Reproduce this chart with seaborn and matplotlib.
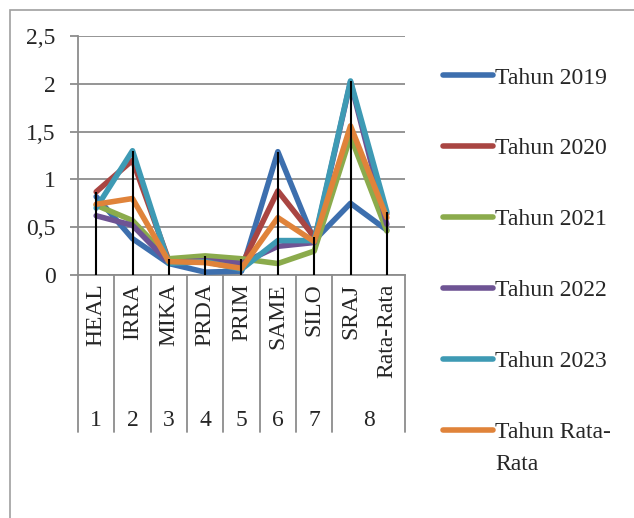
import pandas as pd
import matplotlib
matplotlib.use("Agg")
import matplotlib.pyplot as plt
from matplotlib.patches import Rectangle
import seaborn as sns

# data
categories = ["HEAL", "IRRA", "MIKA", "PRDA", "PRIM", "SAME", "SILO", "SRAJ", "Rata-Rata"]
groups = ["1", "2", "3", "4", "5", "6", "7", "8"]
tahun_2019 = [0.82, 0.38, 0.12, 0.03, 0.04, 1.29, 0.36, 0.75, 0.47]
tahun_2020 = [0.87, 1.20, 0.15, 0.15, 0.10, 0.88, 0.40, 1.50, 0.64]
tahun_2021 = [0.73, 0.57, 0.17, 0.20, 0.17, 0.12, 0.25, 1.45, 0.46]
tahun_2022 = [0.62, 0.52, 0.13, 0.15, 0.12, 0.30, 0.34, 2.02, 0.53]
tahun_2023 = [0.70, 1.30, 0.12, 0.14, 0.06, 0.36, 0.36, 2.03, 0.66]
tahun_rata = [0.74, 0.80, 0.14, 0.13, 0.07, 0.60, 0.35, 1.56, 0.60]
yticks = [0, 0.5, 1, 1.5, 2, 2.5]
ytick_labels = ["0", "0,5", "1", "1,5", "2", "2,5"]

series = {
    "Tahun 2019": tahun_2019,
    "Tahun 2020": tahun_2020,
    "Tahun 2021": tahun_2021,
    "Tahun 2022": tahun_2022,
    "Tahun 2023": tahun_2023,
    "Tahun Rata-Rata": tahun_rata,
}
colors = ["#3D6FAE", "#A94542", "#8BAB4C", "#6E5494", "#3E9AB4", "#E0833A"]
GREY = "#8c8c8c"


def main():
    sns.set_style("white")
    plt.rcParams["font.family"] = ["Liberation Serif", "DejaVu Serif"]

    wide = pd.DataFrame(series)
    wide["pos"] = range(len(categories))
    df = wide.melt(id_vars="pos", var_name="Seri", value_name="Nilai")

    fig = plt.figure(figsize=(6.34, 5.18), dpi=100)
    ax = fig.add_axes([78 / 634, 1 - 275 / 518, 327 / 634, 239 / 518])

    # outer chart frame
    fig.patches.append(Rectangle((10 / 634, -0.1), 1.2, 1.1 - 10 / 518,
                                 transform=fig.transFigure, fill=False,
                                 edgecolor="#a0a0a0", linewidth=1.2))

    # drop lines to the axis at each category maximum
    tops = wide[list(series)].max(axis=1)
    ax.vlines(wide["pos"], 0, tops, color="black", linewidth=1.5, zorder=5)

    sns.lineplot(data=df, x="pos", y="Nilai", hue="Seri", palette=colors,
                 sort=False, linewidth=4.0, ax=ax, zorder=3,
                 solid_joinstyle="round", solid_capstyle="round")

    ax.set_xlim(-0.5, len(categories) - 0.5)
    ax.set_ylim(0, 2.5)
    ax.set_yticks(yticks)
    ax.set_yticklabels(ytick_labels, fontsize=17)
    ax.set_xticks([])
    ax.set_xlabel("")
    ax.set_ylabel("")
    ax.grid(axis="y", color=GREY, linewidth=1.3)
    ax.tick_params(axis="y", length=6, color=GREY, width=1.3, pad=10, left=True)
    for side in ["top", "right"]:
        ax.spines[side].set_visible(False)
    for side in ["left", "bottom"]:
        ax.spines[side].set_color(GREY)
        ax.spines[side].set_linewidth(1.3)

    # two-level category axis
    tr = ax.get_xaxis_transform()
    for i, cat in enumerate(categories):
        ax.text(i, -0.035, cat, rotation=90, ha="center", va="top",
                fontsize=17, transform=tr)
    group_pos = [0, 1, 2, 3, 4, 5, 6, 7.5]
    for g, gx in zip(groups, group_pos):
        ax.text(gx, -0.607, g, ha="center", va="center", fontsize=17, transform=tr)
    for b in [-0.5, 0.5, 1.5, 2.5, 3.5, 4.5, 5.5, 6.5, 8.5]:
        ax.plot([b, b], [0, -0.657], color=GREY, linewidth=1.3,
                transform=tr, clip_on=False)

    handles, labels = ax.get_legend_handles_labels()
    ax.get_legend().remove()
    labels = [l.replace("Rata-Rata", "Rata-") for l in labels]
    leg = fig.legend(handles, labels, loc="upper left",
                     bbox_to_anchor=(443 / 634, 1 - 67 / 518),
                     frameon=False, fontsize=17, handlelength=2.1,
                     handletextpad=0.1, labelspacing=2.09,
                     borderpad=0, borderaxespad=0)
    for line in leg.get_lines():
        line.set_linewidth(4.0)
        line.set_solid_capstyle("round")

    # wrapped second line of the last legend label
    fig.canvas.draw()
    bb = leg.get_texts()[-1].get_window_extent()
    W, H = fig.canvas.get_width_height()
    fig.text(bb.x0 / W, (bb.y0 - 32) / H, "Rata", fontsize=17,
             ha="left", va="bottom")

    fig.savefig("out.png", dpi=100)
    plt.close(fig)


if __name__ == "__main__":
    main()
